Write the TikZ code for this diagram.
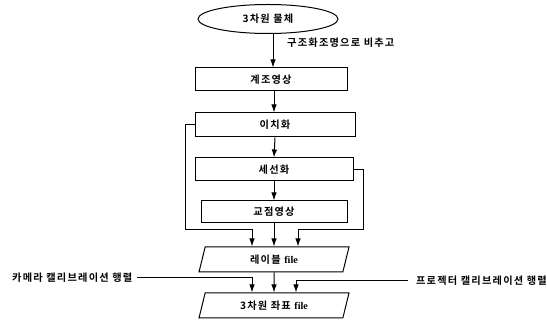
\documentclass[tikz,border=0pt]{standalone}
\usepackage{fontspec}
\setmainfont{Noto Sans CJK KR}[BoldFont={Noto Sans CJK KR Bold}]
\newfontfamily\kor[LetterSpace=12,BoldFont={Noto Sans CJK KR Bold}]{Noto Sans CJK KR}
\newfontfamily\lat{Liberation Serif}
\usetikzlibrary{arrows.meta,shapes.geometric,calc}
\begin{document}
\begin{tikzpicture}[x=1pt,y=-1pt,
  every node/.style={font=\kor\bfseries\fontsize{10.2}{12}\selectfont, inner sep=0pt},
  line/.style={draw=black, line width=1pt},
  arr/.style={line, -{Latex[length=8pt,width=5.5pt]}},
  procbox/.style={draw=black, line width=1pt, rectangle},
  iobox/.style={draw=black, line width=1pt, trapezium, trapezium left angle=57,
     trapezium right angle=123, trapezium stretches body, minimum width=150pt, minimum height=25pt},
  plain/.style={}]
\useasboundingbox (0,0) rectangle (547,320);
\node[draw=black, line width=1pt, ellipse, minimum width=140pt, minimum height=29pt] (obj) at (268,19) {3차원 물체};
\node[plain, anchor=west] (lbl) at (287,43) {구조화조명으로 비추고};
\node[procbox, minimum width=152pt, minimum height=23pt] (b1) at (271,79.5) {계조영상};
\node[procbox, minimum width=160pt, minimum height=24pt] (b2) at (275,125) {이치화};
\node[procbox, minimum width=158pt, minimum height=23pt] (b3) at (274,169.5) {세선화};
\node[procbox, minimum width=146pt, minimum height=22pt] (b4) at (274,212) {교점영상};
\node[iobox] (p1) at (274,259.5) {레이블 {\lat\bfseries file}};
\node[iobox] (p2) at (274,305.5) {3차원 좌표 {\lat\bfseries file}};
\node[plain, anchor=west] (cam) at (12,278) {카메라 캘리브레이션 행렬};
\node[plain, anchor=east] (prj) at (547,281) {프로젝터 캘리브레이션 행렬};
\coordinate (lc) at (185,230);
\coordinate (rc) at (363,230);
% main chain
\draw[arr] ($(obj.south)+(5,0)$) -- ($(b1.north)+(2,0)$);
\draw[arr] ($(b1.south)+(3,0)$) -- ($(b2.north)+(-1,0)$);
\draw[arr] (b2.south) -- (b3.north);
\draw[arr] (b3.south) -- (b4.north);
\draw[arr] (b4.south) -- (b4.south |- p1.north);
% loops
\draw[arr] (b2.west) -| (lc) -| ($(p1.north)+(-22,0)$);
\draw[arr] (b3.east) -| (rc) -| ($(p1.north)+(24,0)$);
% lower
\draw[arr] (p1.south) -- (p2.north);
\draw[arr] ($(cam.east)+(5,0)$) -| ($(p2.north)+(-22,0)$);
\draw[arr] ($(prj.west)+(-8,0)$) -| ($(p2.north)+(22,0)$);
\end{tikzpicture}
\end{document}
